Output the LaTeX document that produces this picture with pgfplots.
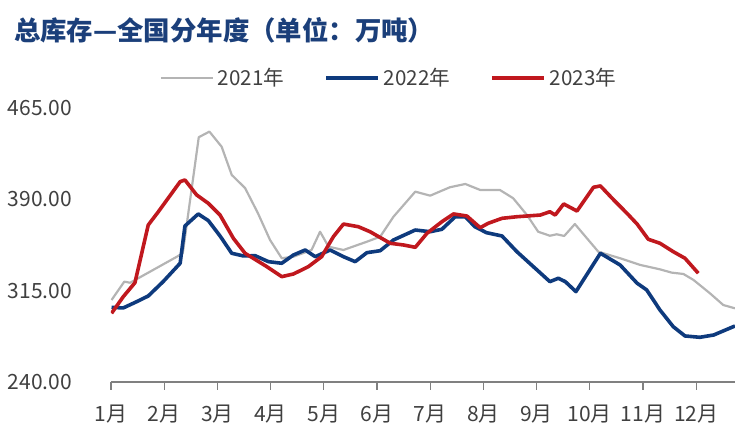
\documentclass[border=0pt]{standalone}
\usepackage{fontspec}
\setmainfont{Noto Sans CJK SC}
\usepackage{pgfplots}
\pgfplotsset{compat=1.18}

\definecolor{c21}{HTML}{B4B4B4}
\definecolor{c22}{HTML}{0E3A7D}
\definecolor{c23}{HTML}{C0181E}
\definecolor{titleblue}{HTML}{1B3F7A}
\definecolor{txt}{HTML}{404040}
\definecolor{axgray}{HTML}{808080}

\begin{document}
\begin{tikzpicture}
\begin{axis}[
    name=ax,
    scale only axis,
    width=312pt, height=137pt,
    xmin=1, xmax=12.73,
    ymin=240, ymax=465,
    axis x line*=bottom,
    axis y line*=left,
    y axis line style={draw=none},
    x axis line style={draw=axgray, line width=0.6pt},
    xtick={1,...,12},
    xticklabels={1月,2月,3月,4月,5月,6月,7月,8月,9月,10月,11月,12月},
    ytick={240,315,390,465},
    tick align=outside,
    major tick length=4pt,
    xtick style={draw=axgray, line width=0.6pt},
    ytick style={draw=none},
    /pgf/number format/fixed,
    /pgf/number format/zerofill,
    /pgf/number format/precision=2,
    /pgf/number format/assume math mode=true,
    ticklabel style={font=\fontsize{10.5}{12}\selectfont, text=txt},
    xticklabel style={yshift=-4pt},
    yticklabel style={xshift=-12pt},
    legend columns=3,
    legend style={at={(0.447,1.109)}, anchor=center, draw=none, fill=none,
        font=\fontsize{10.3}{12}\selectfont, text=txt,
        /tikz/every even column/.append style={column sep=18pt}},
    legend image code/.code={\draw[#1] (0pt,0pt) -- (26pt,0pt);},
    every axis plot/.append style={line join=round},
]

% 2021
\addplot[c21, line width=1.1pt] coordinates {
(1.01,307.3)(1.25,322.4)(1.36,321.5)(2.24,342.9)(2.35,345.9)(2.65,441.0)
(2.85,445.6)(3.08,433.2)(3.27,410.0)(3.52,399.3)(3.76,378.8)(3.99,356.6)
(4.21,341.6)(4.43,342.9)(4.77,348.4)(4.93,363.4)(5.09,351.1)(5.37,348.4)
(5.81,355.2)(6.06,359.3)(6.31,375.7)(6.72,396.3)(7.00,393.0)(7.37,399.9)
(7.66,402.6)(7.94,397.7)(8.31,397.7)(8.56,390.9)(8.82,377.1)(9.03,363.4)
(9.25,360.1)(9.38,361.3)(9.52,359.9)(9.72,369.7)(10.16,347.0)(10.57,341.6)
(10.95,336.1)(11.32,332.5)(11.54,329.8)(11.76,328.7)(11.95,323.8)(12.26,312.8)
(12.51,303.2)(12.73,300.5)
};
\addlegendentry{2021年}

% 2022
\addplot[c22, line width=1.8pt] coordinates {
(1.01,301.3)(1.23,300.8)(1.48,305.9)(1.70,310.6)(1.98,322.4)(2.30,337.5)
(2.39,368.1)(2.64,378.0)(2.83,372.5)(3.05,359.9)(3.27,345.7)(3.49,343.5)
(3.71,343.7)(3.96,338.8)(4.21,337.5)(4.43,344.3)(4.65,348.4)(4.84,342.9)
(5.12,348.4)(5.37,342.9)(5.59,338.8)(5.81,346.2)(6.06,347.8)(6.31,356.6)
(6.72,364.8)(7.00,363.4)(7.22,365.4)(7.47,375.7)(7.66,375.7)(7.84,367.5)
(8.06,362.6)(8.35,359.9)(8.63,347.0)(8.94,334.7)(9.25,322.4)(9.41,325.2)
(9.54,322.4)(9.74,314.2)(10.20,345.7)(10.57,336.1)(10.89,321.1)(11.07,315.6)
(11.32,299.1)(11.57,285.4)(11.79,277.8)(12.07,276.7)(12.33,278.6)(12.73,286.0)
};
\addlegendentry{2022年}

% 2023
\addplot[c23, line width=1.8pt] coordinates {
(1.01,296.4)(1.23,310.0)(1.45,321.5)(1.70,368.9)(1.89,379.8)(2.30,404.5)
(2.39,405.9)(2.61,393.6)(2.83,386.7)(3.05,377.1)(3.30,358.0)(3.52,345.7)
(3.93,334.7)(4.21,326.5)(4.43,328.7)(4.71,334.7)(4.96,342.9)(5.18,359.3)
(5.37,369.7)(5.65,367.5)(5.87,363.4)(6.25,353.9)(6.50,352.5)(6.72,350.6)
(6.94,362.1)(7.22,371.6)(7.44,378.0)(7.69,376.3)(7.94,366.7)(8.09,370.3)
(8.35,374.4)(8.63,375.7)(9.07,377.1)(9.25,379.8)(9.35,377.1)(9.51,386.2)
(9.76,380.4)(10.07,399.9)(10.20,401.0)(10.45,389.5)(10.70,378.5)(10.89,369.7)
(11.10,357.2)(11.32,353.9)(11.57,347.0)(11.79,341.6)(12.04,329.3)
};
\addlegendentry{2023年}
\end{axis}

\node[anchor=west, font=\fontsize{13.2}{15}\selectfont\bfseries, text=titleblue]
    at (-52pt,176pt) {总库存—全国分年度（单位：万吨）};

\pgfresetboundingbox
\useasboundingbox (-55.5pt,-30pt) rectangle (317.5pt,191pt);
\end{tikzpicture}
\end{document}
